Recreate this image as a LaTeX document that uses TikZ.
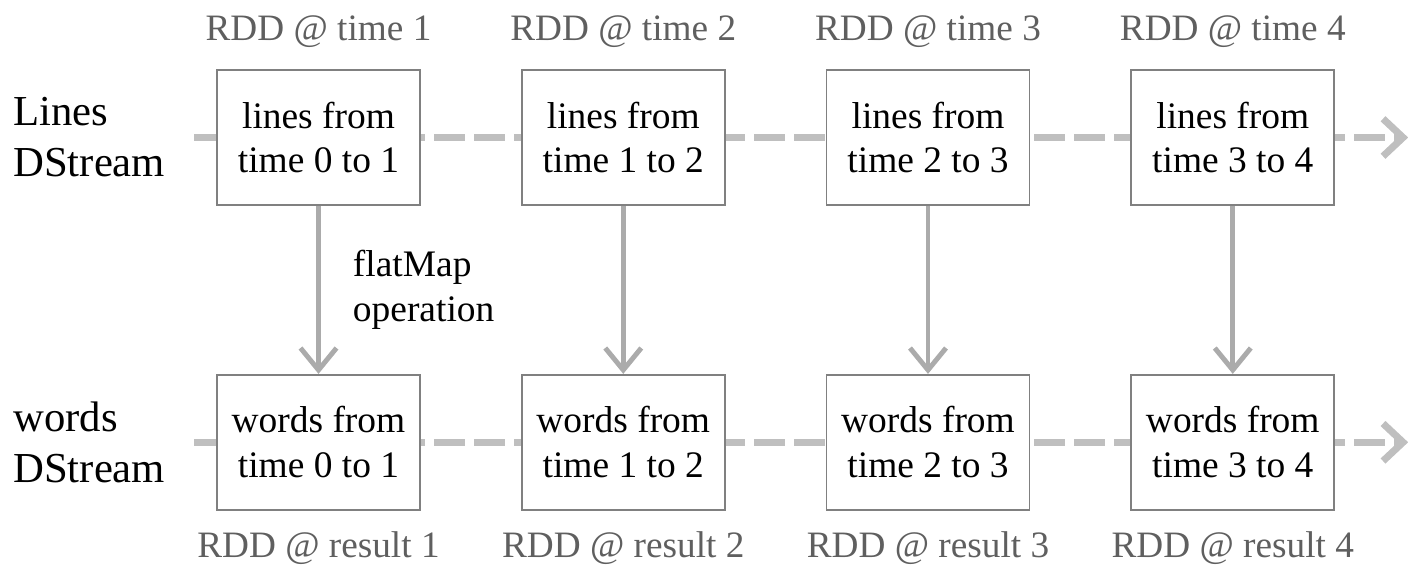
\documentclass[tikz,border=0pt]{standalone}
\usepackage{fontspec}
\setmainfont{Liberation Serif}
\usetikzlibrary{positioning, arrows.meta, backgrounds}
\definecolor{boxgray}{HTML}{808080}
\definecolor{dashgray}{HTML}{BFBFBF}
\definecolor{arrowgray}{HTML}{ABABAB}
\definecolor{labelgray}{HTML}{5F5F5F}

\begin{document}
\begin{tikzpicture}[
    node distance=2cm,
    box/.style={draw=boxgray, line width=1pt, fill=white, rectangle, minimum width=4.06cm, minimum height=2.7cm, inner sep=0pt, align=center, font=\fontsize{21.3}{25.6}\selectfont},
    rddlabel/.style={text=labelgray, inner sep=0pt, font=\fontsize{21.2}{24}\selectfont},
    sidelabel/.style={align=left, inner sep=0pt, anchor=west, font=\fontsize{24.3}{29}\selectfont},
    streamline/.style={line width=4pt, draw=dashgray, dash pattern=on 0.62cm off 0.18cm, -{Straight Barb[length=0.4cm, width=0.75cm]}},
    flow/.style={line width=2.8pt, draw=arrowgray, -{Straight Barb[length=0.44cm, width=0.72cm]}}
]
\useasboundingbox (0,0) rectangle (28.16,-11.36);

% lines DStream
\node[box] (l1) at (6.37,-2.75) {lines from\\time 0 to 1};
\node[box, right=of l1] (l2) {lines from\\time 1 to 2};
\node[box, right=of l2] (l3) {lines from\\time 2 to 3};
\node[box, right=of l3] (l4) {lines from\\time 3 to 4};

% words DStream
\node[box, below=3.36cm of l1] (w1) {words from\\time 0 to 1};
\node[box, below=3.36cm of l2] (w2) {words from\\time 1 to 2};
\node[box, below=3.36cm of l3] (w3) {words from\\time 2 to 3};
\node[box, below=3.36cm of l4] (w4) {words from\\time 3 to 4};

\node[sidelabel] (linesname) at (0.26,0 |- l1) {Lines\\DStream};
\node[sidelabel] (wordsname) at (0.26,0 |- w1) {words\\DStream};

\node[rddlabel] (t1) at ([yshift=0.74cm]l1.north) {RDD @ time 1};
\node[rddlabel] (t2) at ([yshift=0.74cm]l2.north) {RDD @ time 2};
\node[rddlabel] (t3) at ([yshift=0.74cm]l3.north) {RDD @ time 3};
\node[rddlabel] (t4) at ([yshift=0.74cm]l4.north) {RDD @ time 4};

\node[rddlabel] (r1) at ([yshift=-0.74cm]w1.south) {RDD @ result 1};
\node[rddlabel] (r2) at ([yshift=-0.74cm]w2.south) {RDD @ result 2};
\node[rddlabel] (r3) at ([yshift=-0.74cm]w3.south) {RDD @ result 3};
\node[rddlabel] (r4) at ([yshift=-0.74cm]w4.south) {RDD @ result 4};

\coordinate[left=0.44cm of l1.west] (lstart);
\coordinate[right=1.46cm of l4.east] (lend);
\coordinate[left=0.44cm of w1.west] (wstart);
\coordinate[right=1.46cm of w4.east] (wend);

\begin{scope}[on background layer]
\draw[streamline] (lstart) -- (lend);
\draw[streamline] (wstart) -- (wend);
\end{scope}

\draw[flow] (l1) -- node[right=0.64cm, inner sep=0pt, align=left, font=\fontsize{21.3}{25.6}\selectfont] (opname) {flatMap\\operation} (w1);
\draw[flow] (l2) -- (w2);
\draw[flow] (l3) -- (w3);
\draw[flow] (l4) -- (w4);

\end{tikzpicture}
\end{document}
